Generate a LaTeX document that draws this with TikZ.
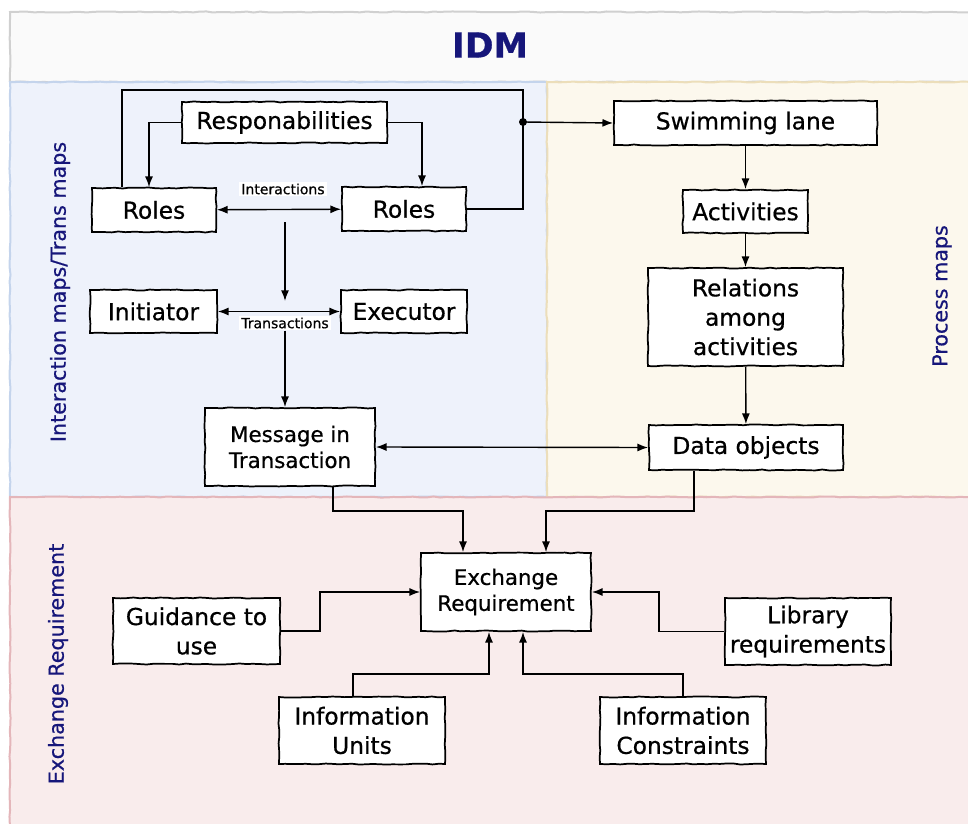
\documentclass[tikz,border=0pt]{standalone}
\usepackage{fontspec}
\setmainfont[FakeBold=0.6]{DejaVu Sans}
\usetikzlibrary{arrows.meta,decorations.pathmorphing,calc}
\definecolor{ink}{RGB}{22,22,122}
\definecolor{titlefill}{RGB}{250,250,250}
\definecolor{titleline}{RGB}{208,208,208}
\definecolor{bluefill}{RGB}{238,242,251}
\definecolor{blueline}{RGB}{196,212,236}
\definecolor{sandfill}{RGB}{252,248,237}
\definecolor{sandline}{RGB}{236,222,186}
\definecolor{rosefill}{RGB}{249,236,236}
\definecolor{roseline}{RGB}{228,182,186}
\tikzset{
  rough/.style={decorate,decoration={random steps,segment length=5pt,amplitude=0.4pt}},
  region/.style={rough,line width=1.5pt},
  box/.style={draw=black,fill=white,line width=1.3pt,rough,align=center,inner sep=2pt,
    font=\fontsize{17.5}{22}\selectfont},
  smalltext/.style={font=\fontsize{16}{19.5}\selectfont},
  conn/.style={line width=1.05pt},
  arr/.style={conn,-{Latex[length=8pt,width=6pt]}},
  darr/.style={conn,{Latex[length=8pt,width=6pt]}-{Latex[length=8pt,width=6pt]}},
  lbl/.style={fill=white,inner sep=1.5pt,font=\fontsize{10.5}{12}\selectfont},
  side/.style={text=ink,font=\fontsize{15.5}{18}\selectfont,rotate=90}
}
\newcommand\ibox[7][]{\node[box,#1,minimum width={(#5-#3)*0.75pt},minimum height={(#6-#4)*0.75pt}]
  (#2) at ({(#3+#5)/2},{(#4+#6)/2}) {#7};}
\pgfmathsetseed{11}
\begin{document}
\begin{tikzpicture}[x=0.75pt,y=-0.75pt]
\useasboundingbox (0,0) rectangle (968,824);

% background panels
\path[region,fill=titlefill,draw=titleline] (10,12) rectangle (980,82);
\path[region,fill=bluefill,draw=blueline] (10,82) rectangle (547,497);
\path[region,fill=sandfill,draw=sandline] (547,82) rectangle (980,497);
\path[region,fill=rosefill,draw=roseline] (10,497) rectangle (980,840);

\node[text=ink,font=\bfseries\fontsize{26}{30}\selectfont] (title) at (490,45) {IDM};

\node[side] (sideint) at (60,292) {Interaction maps/Trans maps};
\node[side] (sideproc) at (942,296) {Process maps};
\node[side] (sideexch) at (58,664) {Exchange Requirement};

% interaction maps
\ibox{resp}{182}{102}{387}{143}{Responabilities}
\ibox{rolesA}{92}{188}{216}{232}{Roles}
\ibox{rolesB}{342}{187}{466}{231}{Roles}
\ibox{init}{90}{290}{217}{333}{Initiator}
\ibox{exec}{341}{290}{467}{333}{Executor}
\ibox[smalltext]{msg}{205}{408}{375}{486}{Message in\\Transaction}

% process maps
\ibox{swim}{614}{101}{877}{145}{Swimming lane}
\ibox{act}{683}{190}{808}{233}{Activities}
\ibox{rel}{648}{268}{843}{366}{Relations\\among\\activities}
\ibox{data}{649}{425}{843}{470}{Data objects}

% exchange requirement
\ibox[smalltext]{exch}{421}{553}{591}{631}{Exchange\\Requirement}
\ibox{guide}{113}{598}{280}{664}{Guidance to\\use}
\ibox{lib}{725}{598}{891}{665}{Library\\requirements}
\ibox{iu}{279}{697}{445}{764}{Information\\Units}
\ibox{ic}{600}{697}{766}{764}{Information\\Constraints}

% connectors
\draw[arr] (resp.west) -| ($(rolesA.north)+(-5,0)$);
\draw[arr] (resp.east) -| ($(rolesB.north)+(18,0)$);

\coordinate (loopL) at (122,90);
\coordinate (loopR) at (523,90);
\coordinate (jn) at (523,122);
\draw[conn] (rolesA.north -| loopL) -- (loopL) -- (loopR) |- (rolesB.east);
\fill (jn) circle[radius=3pt];
\draw[arr] (jn) -- (swim.west);

\draw[darr] (rolesA) -- (rolesB);
\node[lbl] (intlbl) at (283,189) {Interactions};
\coordinate (dropA) at (285,222);
\coordinate (dropB) at (285,301);
\draw[arr] (dropA) -- (dropB);

\draw[darr] (init) -- (exec);
\node[lbl] (trlbl) at (285,323) {Transactions};
\draw[arr] (trlbl.south) -- (trlbl.south |- msg.north);

\draw[darr] (msg.east) -- (data.west);

\draw[arr] (swim) -- (act);
\draw[arr] (act) -- (rel);
\draw[arr] (rel) -- (data);

\draw[arr] ($(msg.south)+(43,0)$) -- ++(0,24) -| ($(exch.north)+(-43,0)$);
\draw[arr] ($(data.south)+(-52,0)$) -- ++(0,40) -| ($(exch.north)+(40,0)$);
\draw[arr] (guide.east) -- ++(39,0) |- (exch.west);
\draw[arr] (lib.west) -- ++(-65,0) |- (exch.east);
\draw[arr] ($(iu.north)+(-9,0)$) -- ++(0,-22) -| ($(exch.south)+(-17,0)$);
\draw[arr] (ic.north) -- ++(0,-22) -| ($(exch.south)+(17,0)$);
\end{tikzpicture}
\end{document}
